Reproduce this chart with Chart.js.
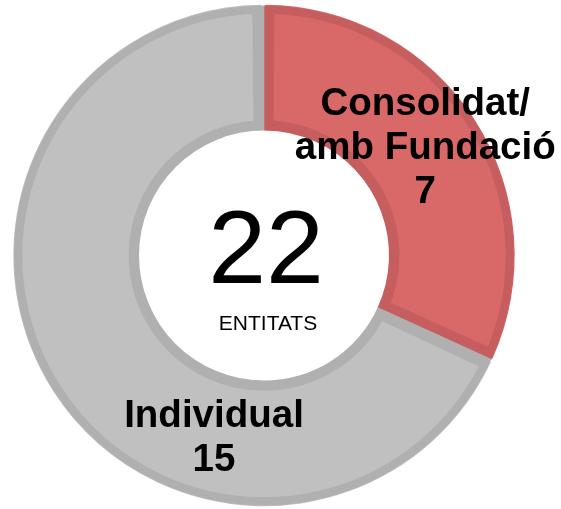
<!DOCTYPE html>
<html>
<head>
<meta charset="utf-8">
<script src="https://cdn.jsdelivr.net/npm/chart.js@4.4.1/dist/chart.umd.min.js"></script>
<style>
html,body{margin:0;padding:0;background:#fff;}
#wrap{width:561px;height:509px;position:relative;}
</style>
</head>
<body>
<div id="wrap"><canvas id="c" width="561" height="509"></canvas></div>
<script>
const categories = ["Consolidat/\namb Fundació", "Individual"];
const values = [7, 15];
const centerTotal = "22";
const centerLabel = "ENTITATS";
const fillColors = ["#d96868", "#c0c0c0"];
const borderColors = ["#c65e60", "#b0b0b0"];
// label anchor as fraction of outer radius, relative to chart centre
const labelAnchors = [[0.645, -0.43], [-0.2, 0.732]];

const FONT = "'Liberation Sans', Arial, sans-serif";

const labelsPlugin = {
  id: 'labelsPlugin',
  afterDatasetsDraw(chart) {
    const ctx = chart.ctx;
    const meta = chart.getDatasetMeta(0);
    const arc0 = meta.data[0];
    const cx = arc0.x, cy = arc0.y, R = arc0.outerRadius;
    ctx.save();
    ctx.textAlign = 'center';
    ctx.textBaseline = 'middle';
    ctx.fillStyle = '#000';
    // centre text
    ctx.font = '104px ' + FONT;
    ctx.fillText(centerTotal, cx + 2, cy - 1);
    ctx.font = '21px ' + FONT;
    ctx.fillText(centerLabel, cx + 4, cy + 69);
    // slice labels
    ctx.font = 'bold 38.5px ' + FONT;
    const lh = 44;
    meta.data.forEach((arc, i) => {
      const lines = categories[i].split('\n').concat([String(values[i])]);
      const x = cx + labelAnchors[i][0] * R;
      const y = cy + labelAnchors[i][1] * R;
      const top = y - (lines.length - 1) * lh / 2;
      lines.forEach((ln, j) => ctx.fillText(ln, x, top + j * lh));
    });
    ctx.restore();
  }
};

new Chart(document.getElementById('c'), {
  type: 'doughnut',
  data: {
    labels: categories,
    datasets: [{
      data: values,
      backgroundColor: fillColors,
      borderColor: borderColors,
      borderWidth: 9,
      borderAlign: 'inner',
      spacing: 2,
      offset: 0,
      hoverOffset: 0
    }]
  },
  options: {
    responsive: false,
    animation: false,
    cutout: '50%',
    layout: { padding: { left: 13, right: 46, top: 4, bottom: 2 } },
    plugins: { legend: { display: false }, tooltip: { enabled: false } },
    events: []
  },
  plugins: [labelsPlugin]
});
</script>
</body>
</html>
